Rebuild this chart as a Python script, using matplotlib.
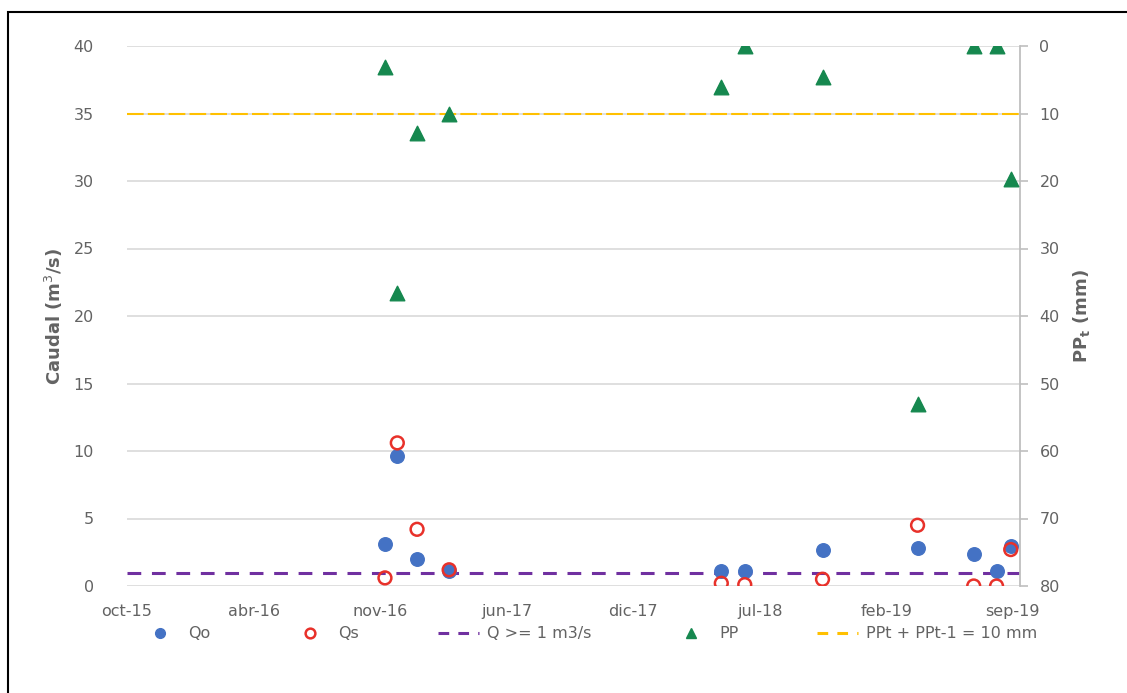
import matplotlib.pyplot as plt
from matplotlib.lines import Line2D
from matplotlib.patches import Rectangle
import numpy as np
import pandas as pd


plt.rcParams["font.family"] = ["DejaVu Sans"]

# sampling dates
dates = pd.to_datetime([
    '2016-11-22', '2016-12-12', '2017-01-13', '2017-03-06',
    '2018-05-21', '2018-06-28', '2018-11-01', '2019-04-04',
    '2019-07-04', '2019-08-10', '2019-09-02',
])
qo = [3.1, 9.6, 2.0, 1.1, 1.1, 1.1, 2.7, 2.8, 2.4, 1.1, 3.0]
qs = [0.6, 10.6, 4.2, 1.2, 0.2, 0.1, 0.5, 4.5, 0.0, 0.0, 2.7]
pp = [3.1, 36.6, 12.9, 10.1, 6.1, 0.0, 4.6, 53.0, 0.0, 0.0, 19.7]

q_threshold = 1.0
pp_threshold = 10.0

axis_start = pd.Timestamp('2015-10-01')
axis_end = pd.Timestamp('2019-09-17')
tick_step_days = 205
tick_labels = ['oct-15', 'abr-16', 'nov-16', 'jun-17',
               'dic-17', 'jul-18', 'feb-19', 'sep-19']

grey = '#636363'
c_qo = '#4472C4'
c_qs = '#E8312A'
c_pp = '#16884F'
c_qline = '#7030A0'
c_ppline = '#FFC000'

fig = plt.figure(figsize=(11.27, 6.93), dpi=100)
ax = fig.add_axes([127/1127, 1-586/693, (1020-127)/1127, (586-46)/693])
ax2 = ax.twinx()

ax.scatter(dates, qo, s=95, color=c_qo, zorder=3)
ax.scatter(dates, qs, s=85, facecolors='none', edgecolors=c_qs,
           linewidths=1.8, zorder=4)
ax.axhline(q_threshold, color=c_qline, lw=2.2, dashes=(4.5, 3.5), zorder=2)

ax2.scatter(dates, pp, s=110, marker='^', color=c_pp, zorder=3)
ax2.axhline(pp_threshold, color=c_ppline, lw=1.5, dashes=(8, 2), zorder=2)

ax.set_ylim(0, 40)
ax.set_yticks(np.arange(0, 41, 5))
ax2.set_ylim(80, 0)
ax2.set_yticks(np.arange(0, 81, 10))

ticks = [axis_start + pd.Timedelta(days=tick_step_days * i)
         for i in range(len(tick_labels))]
ax.set_xlim(axis_start, axis_end)
ax.set_xticks(ticks)
ax.set_xticklabels(tick_labels)

ax.grid(axis='y', color='#D9D9D9', lw=1.2, zorder=0)
ax.set_axisbelow(True)
for s in ['left', 'right', 'top', 'bottom']:
    ax.spines[s].set_visible(False)
for s in ['left', 'top', 'bottom']:
    ax2.spines[s].set_visible(False)
ax2.spines['right'].set_color('#BFBFBF')
ax2.spines['right'].set_linewidth(1.3)

ax.tick_params(axis='both', length=0, labelsize=11.5, colors=grey)
ax.tick_params(axis='x', pad=13)
ax.tick_params(axis='y', pad=24)
ax2.tick_params(axis='y', length=6, width=1.2, color='#BFBFBF',
                labelsize=11.5, labelcolor=grey, pad=8)

ax.set_ylabel('Caudal (m$^3$/s)', fontsize=13, fontweight='bold',
              color=grey, labelpad=6)
ax2.set_ylabel('PP$_\\mathbf{t}$ (mm)', fontsize=13, fontweight='bold',
               color=grey, labelpad=8)

handles = [
    Line2D([], [], ls='none', marker='o', ms=7, color=c_qo),
    Line2D([], [], ls='none', marker='o', ms=7, mfc='white',
           mec=c_qs, mew=1.8),
    Line2D([], [], color=c_qline, lw=2.2, dashes=(3.5, 3)),
    Line2D([], [], ls='none', marker='^', ms=7, color=c_pp),
    Line2D([], [], color=c_ppline, lw=2.2, dashes=(3.5, 3)),
]
labels = ['Qo', 'Qs', 'Q >= 1 m3/s', 'PP', 'PPt + PPt-1 = 10 mm']
leg = fig.legend(handles, labels, loc='center', ncol=5,
                 bbox_to_anchor=(0.522, 1-634/693), frameon=False,
                 fontsize=11.5, handlelength=2.6, columnspacing=4.9,
                 handletextpad=0.5)
for t in leg.get_texts():
    t.set_color(grey)

fig.patches.append(Rectangle((7.5/1127, -0.1), 1.2, 1-12/693+0.1,
                             transform=fig.transFigure, fill=False,
                             edgecolor='black', lw=1.5))

fig.savefig('out.png', dpi=100)
